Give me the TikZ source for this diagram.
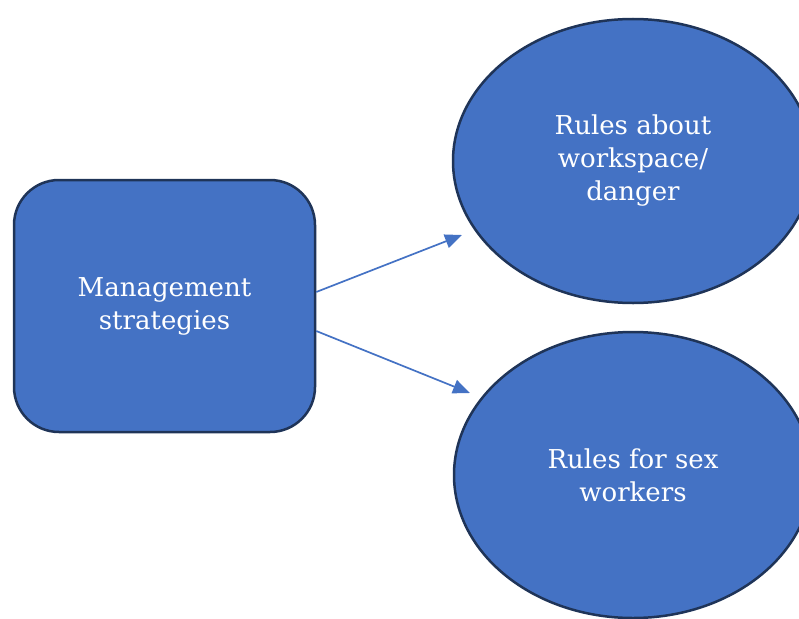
\documentclass[tikz,border=0pt]{standalone}
\usepackage{fontspec}
\setmainfont{DejaVu Serif}
\usetikzlibrary{shapes.geometric,arrows.meta}
\definecolor{boxfill}{HTML}{4472C4}
\definecolor{boxline}{HTML}{1F3458}
\tikzset{
  shapetext/.style={text=white, align=center, font=\fontsize{26}{33}\selectfont},
  rbox/.style={shapetext, draw=boxline, fill=boxfill, line width=2.5pt, rounded corners=45pt, minimum width=301pt, minimum height=252pt},
  oval/.style={shapetext, ellipse, draw=boxline, fill=boxfill, line width=2.5pt, inner sep=0pt},
  conn/.style={draw=boxfill, line width=1.7pt, -{Triangle[length=17pt,width=14pt]}}
}
\begin{document}
\begin{tikzpicture}[x=1pt,y=-1pt]
\useasboundingbox (0,0) rectangle (799,618);
\clip (0,0) rectangle (799,618);
\node[rbox] (m) at (164.5,306) {Management\\strategies};
\node[oval, minimum width=360pt, minimum height=284pt] (e1) at (633,161) {Rules about\\workspace/\\danger};
\node[oval, minimum width=358pt, minimum height=286pt] (e2) at (633,475) {Rules for sex\\workers};
\coordinate (t1) at (462,235);
\coordinate (t2) at (470,393);
\draw[conn] ([yshift=14pt]m.east) -- (t1);
\draw[conn] ([yshift=-25pt]m.east) -- (t2);
\end{tikzpicture}
\end{document}
